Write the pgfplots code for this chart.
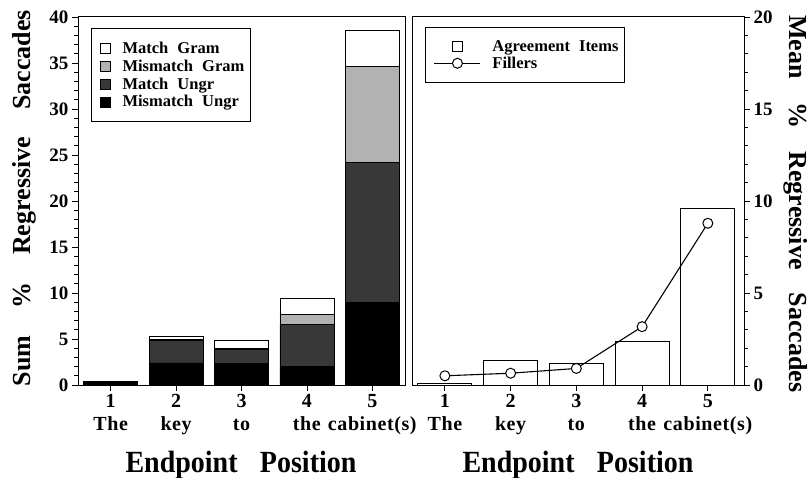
\documentclass[border=0pt]{standalone}
\usepackage{fontspec}
\setmainfont{Liberation Serif}
\usepackage{pgfplots}
\pgfplotsset{compat=1.18}
\newcommand{\ws}{\hspace{0.55em}}
\pgfplotsset{
  common/.style={
    scale only axis, height=368bp,
    xmin=0.5,
    axis line style={line width=1pt},
    tick style={black, line width=0.8pt},
    tick align=outside,
    major tick length=6bp, minor tick length=3.5bp,
    xtick={1,2,3,4,5},
    xticklabels={{1\\The},{2\\key},{3\\to},{4\\the},{5\\cabinet(s)}},
    xticklabel style={align=center, font=\bfseries\fontsize{20bp}{23bp}\selectfont\addfontfeatures{LetterSpace=3}},
    yticklabel style={font=\bfseries\fontsize{19bp}{19bp}\selectfont},
    /pgf/number format/assume math mode=true,
    xtick pos=bottom,
    minor y tick num=4,
    legend cell align=left,
    clip=false,
  },
  sqlegend/.style={legend image code/.code={\path[draw=none,fill=none] (0bp,0bp) -- (25bp,0bp); \draw[##1, draw=black, line width=0.8pt] (5bp,-5bp) rectangle (15bp,5bp);}},
  barlegend/.style={legend image code/.code={\path[draw=none,fill=none] (0bp,0bp) -- (61bp,0bp); \draw[line width=0.8pt, draw=black, fill=white] (23bp,-5bp) rectangle (33bp,5bp);}},
  linelegend/.style={legend image code/.code={\path[draw=none,fill=none] (0bp,0bp) -- (61bp,0bp); \draw[##1, mark repeat=2, mark phase=2] plot coordinates {(5bp,0bp) (28bp,0bp) (51bp,0bp)};}},
}
\begin{document}
\begin{tikzpicture}[font=\bfseries]
\path[use as bounding box] (-78bp,-93bp) rectangle (732bp,385bp);

\begin{axis}[common, name=left, at={(0bp,0bp)}, anchor=south west,
  width=327bp, xmax=5.5,
  ymin=0, ymax=40, ytick={0,5,...,40},
  ytick pos=left,
  ybar stacked, bar width=54bp,
  reverse legend,
  legend style={at={(rel axis cs:0.04,0.97)}, anchor=north west, draw=black, line width=1pt,
    font=\bfseries\fontsize{16.5bp}{16.5bp}\selectfont, row sep=0.9bp, inner xsep=4bp, inner ysep=11.5bp},
  sqlegend,
]
\addplot[fill=black, draw=black, line width=0.8pt] coordinates {(1,0.35) (2,2.4) (3,2.3) (4,2.0) (5,9.0)};
\addlegendentry{Mismatch\ws Ungr}
\addplot[fill=black!78, draw=black, line width=0.8pt] coordinates {(1,0) (2,2.4) (3,1.6) (4,4.6) (5,15.2)};
\addlegendentry{Match\ws Ungr}
\addplot[fill=black!30, draw=black, line width=0.8pt] coordinates {(1,0) (2,0.2) (3,0.1) (4,1.1) (5,10.4)};
\addlegendentry{Mismatch\ws Gram}
\addplot[fill=white, draw=black, line width=0.8pt] coordinates {(1,0) (2,0.3) (3,0.8) (4,1.75) (5,3.9)};
\addlegendentry{Match\ws Gram}
\end{axis}

\begin{axis}[common, name=right, at={(334bp,0bp)}, anchor=south west,
  width=332bp, xmax=5.55,
  ymin=0, ymax=20, ytick={0,5,...,20},
  ytick pos=right, yticklabel pos=right,
  legend style={at={(rel axis cs:0.039,0.973)}, anchor=north west, draw=black, line width=1pt,
    font=\bfseries\fontsize{16.5bp}{16.5bp}\selectfont, row sep=0bp, inner xsep=4bp, inner ysep=11bp},
]
\addplot[ybar, bar width=54bp, fill=white, draw=black, line width=0.8pt, barlegend]
  coordinates {(1,0.09) (2,1.33) (3,1.2) (4,2.36) (5,9.62)};
\addlegendentry{Agreement\ws Items}
\addplot[black, line width=1.1pt, mark=*, mark size=5bp, mark options={fill=white, line width=1pt}, linelegend]
  coordinates {(1,0.5) (2,0.64) (3,0.9) (4,3.17) (5,8.79)};
\addlegendentry{Fillers}
\end{axis}

\node[rotate=90, font=\bfseries\fontsize{26bp}{26bp}\selectfont] at (-54bp,187bp)
  {Sum\hspace{1.05em}\%\hspace{1.05em}Regressive\hspace{1.05em}Saccades};
\node[rotate=-90, font=\bfseries\fontsize{26bp}{26bp}\selectfont] at (718bp,181bp)
  {Mean\hspace{0.9em}\%\hspace{0.9em}Regressive\hspace{0.9em}Saccades};
\node[font=\bfseries\fontsize{28bp}{28bp}\selectfont] at (163bp,-80bp)
  {\scalebox{1}[1.1]{Endpoint\hspace{0.8em}Position}};
\node[font=\bfseries\fontsize{28bp}{28bp}\selectfont] at (500bp,-80bp)
  {\scalebox{1}[1.1]{Endpoint\hspace{0.8em}Position}};
\end{tikzpicture}
\end{document}
